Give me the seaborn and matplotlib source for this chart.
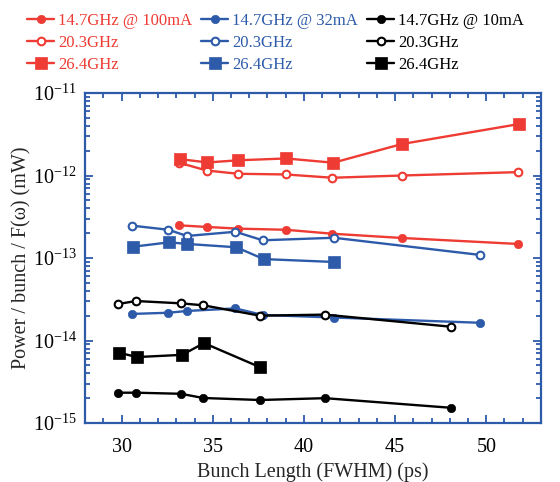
import numpy as np
import pandas as pd
import matplotlib
matplotlib.use('Agg')
import matplotlib.pyplot as plt
import seaborn as sns
from matplotlib.ticker import LogLocator, LogFormatterMathtext, MultipleLocator

# Bunch length (ps) and power per bunch / F(w) (mW)
# 100 mA
x_100_147 = [33.15, 34.67, 36.40, 39.00, 41.56, 45.36, 51.76]
y_100_147 = [2.49e-13, 2.38e-13, 2.27e-13, 2.20e-13, 1.97e-13, 1.75e-13, 1.48e-13]
x_100_203 = [33.15, 34.67, 36.40, 39.00, 41.56, 45.36, 51.76]
y_100_203 = [1.43e-12, 1.15e-12, 1.05e-12, 1.03e-12, 0.94e-12, 1.00e-12, 1.10e-12]
x_100_264 = [33.21, 34.70, 36.40, 39.02, 41.61, 45.38, 51.78]
y_100_264 = [1.58e-12, 1.44e-12, 1.53e-12, 1.61e-12, 1.43e-12, 2.41e-12, 4.20e-12]

# 32 mA
x_32_147 = [30.56, 32.57, 33.58, 36.24, 37.74, 41.65, 49.66]
y_32_147 = [2.10e-14, 2.17e-14, 2.28e-14, 2.45e-14, 2.04e-14, 1.90e-14, 1.64e-14]
x_32_203 = [30.56, 32.57, 33.58, 36.24, 37.74, 41.65, 49.66]
y_32_203 = [2.47e-13, 2.20e-13, 1.85e-13, 2.08e-13, 1.64e-13, 1.76e-13, 1.09e-13]
x_32_264 = [30.62, 32.62, 33.61, 36.29, 37.80, 41.67]
y_32_264 = [1.37e-13, 1.55e-13, 1.48e-13, 1.35e-13, 0.97e-13, 0.895e-13]

# 10 mA
x_10_147 = [29.81, 30.80, 33.26, 34.47, 37.58, 41.16, 48.05]
y_10_147 = [2.33e-15, 2.33e-15, 2.26e-15, 2.01e-15, 1.90e-15, 2.00e-15, 1.53e-15]
x_10_203 = [29.79, 30.80, 33.28, 34.49, 37.59, 41.16, 48.05]
y_10_203 = [2.77e-14, 3.01e-14, 2.82e-14, 2.67e-14, 2.00e-14, 2.06e-14, 1.47e-14]
x_10_264 = [29.86, 30.85, 33.32, 34.52, 37.61]
y_10_264 = [7.1e-15, 6.3e-15, 6.7e-15, 9.3e-15, 4.73e-15]

labels = ['14.7GHz @ 100mA', '20.3GHz', '26.4GHz',
          '14.7GHz @ 32mA', '20.3GHz', '26.4GHz',
          '14.7GHz @ 10mA', '20.3GHz', '26.4GHz']

RED = '#EE3B33'
BLUE = '#2D5BAA'
BLACK = '#000000'

sns.set_theme(style='ticks')
plt.rcParams['font.family'] = ['Liberation Serif', 'DejaVu Serif']
plt.rcParams['mathtext.fontset'] = 'custom'
plt.rcParams['mathtext.rm'] = 'Liberation Serif'
plt.rcParams['mathtext.it'] = 'Liberation Serif:italic'
plt.rcParams['axes.unicode_minus'] = False

series = [
    (x_100_147, y_100_147, RED, 'o', 'full'),
    (x_100_203, y_100_203, RED, 'o', 'open'),
    (x_100_264, y_100_264, RED, 's', 'full'),
    (x_32_147, y_32_147, BLUE, 'o', 'full'),
    (x_32_203, y_32_203, BLUE, 'o', 'open'),
    (x_32_264, y_32_264, BLUE, 's', 'full'),
    (x_10_147, y_10_147, BLACK, 'o', 'full'),
    (x_10_203, y_10_203, BLACK, 'o', 'open'),
    (x_10_264, y_10_264, BLACK, 's', 'full'),
]

fig = plt.figure(figsize=(5.6, 4.82), dpi=100)
ax = fig.add_axes([0.152, 0.1224, 0.814, 0.6846])

handles = []
for (xs, ys, col, mk, fill), lab in zip(series, labels):
    df = pd.DataFrame({'x': xs, 'y': ys})
    if mk == 's':
        ms, mfc, mew = 8.5, col, 0.5
    elif fill == 'open':
        ms, mfc, mew = 5.5, 'white', 1.5
    else:
        ms, mfc, mew = 6, col, 0.5
    sns.lineplot(data=df, x='x', y='y', ax=ax, color=col, sort=False,
                 marker=mk, markersize=ms, markerfacecolor=mfc,
                 markeredgecolor=col, markeredgewidth=mew, linewidth=1.7,
                 label=lab, legend=False)
    handles.append(ax.lines[-1])

ax.set_yscale('log')
ax.set_xlim(28, 53)
ax.set_ylim(1e-15, 1e-11)
ax.xaxis.set_major_locator(MultipleLocator(5))
ax.xaxis.set_minor_locator(MultipleLocator(1))
ax.yaxis.set_major_locator(LogLocator(base=10, numticks=10))
ax.yaxis.set_minor_locator(LogLocator(base=10, subs=np.arange(2, 10), numticks=10))
ax.yaxis.set_major_formatter(LogFormatterMathtext())
ax.yaxis.set_minor_formatter(plt.NullFormatter())

for sp in ax.spines.values():
    sp.set_visible(True)
    sp.set_color(BLUE)
    sp.set_linewidth(1.6)
ax.tick_params(which='both', direction='in', top=True, right=True,
               color=BLUE, width=1.3, labelsize=14.5, labelcolor='black')
ax.tick_params(which='major', length=6)
ax.tick_params(axis='x', which='major', pad=11)
ax.tick_params(axis='y', which='major', pad=6)
ax.tick_params(which='minor', length=3.5)

ax.set_xlabel('Bunch Length (FWHM) (ps)', fontsize=14.5, labelpad=3.5)
ax.set_ylabel('Power / bunch / F(\u03c9) (mW)', fontsize=14.5, labelpad=1)

fig.legend(handles=handles, labels=labels, ncol=3, loc='upper left',
           bbox_to_anchor=(0.025, 1.0), frameon=False, fontsize=12,
           labelcolor='linecolor', handlelength=1.6, handletextpad=0.25,
           columnspacing=0.55, labelspacing=0.36, borderaxespad=0.4)

fig.savefig('out.png', dpi=100)
